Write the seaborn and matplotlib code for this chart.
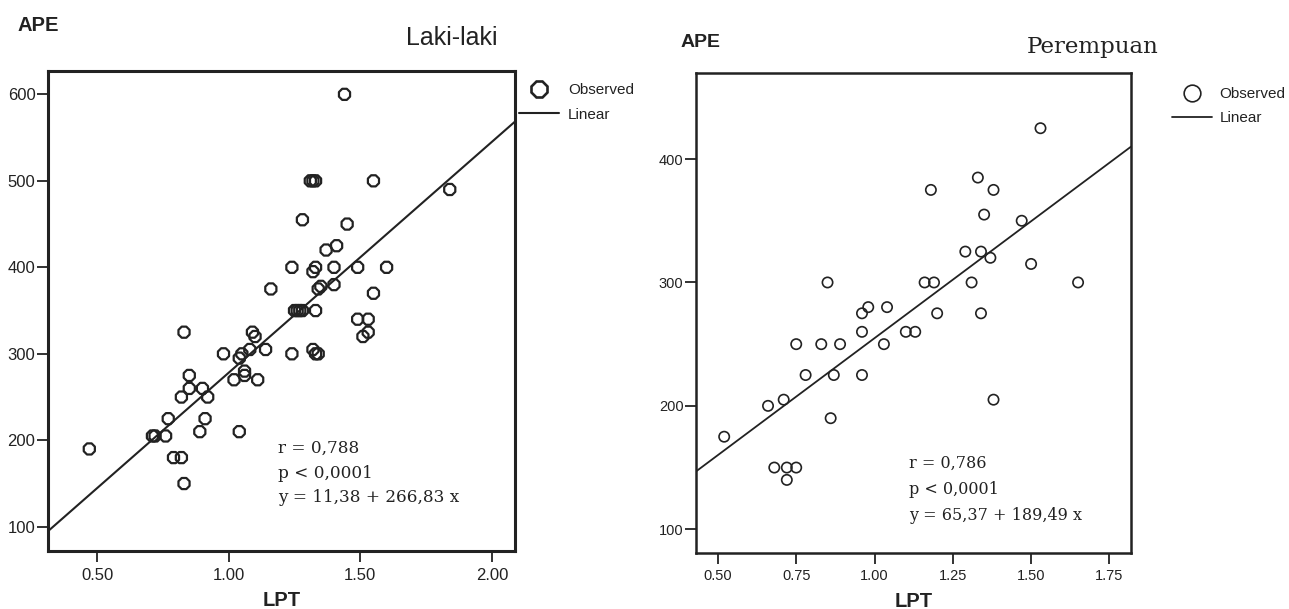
import numpy as np
import pandas as pd
import matplotlib
matplotlib.use("Agg")
import matplotlib.pyplot as plt
import seaborn as sns
from matplotlib.lines import Line2D

# Data: LPT (x) vs APE (y)
# Laki-laki (men)
lpt_laki = [1.44, 1.31, 1.32, 1.33, 1.55, 1.84, 1.28, 1.45, 1.41, 1.37,
            1.24, 1.33, 1.32, 1.40, 1.49, 1.60, 1.16, 1.35, 1.34, 1.40,
            1.55, 1.25, 1.26, 1.27, 1.28, 1.33, 1.49, 1.53, 1.53, 1.51,
            0.83, 1.09, 1.10, 0.98, 1.05, 1.04, 1.08, 1.14, 1.24, 1.32,
            1.33, 1.34, 0.85, 1.06, 1.06, 1.02, 1.11, 0.85, 0.90, 0.82,
            0.92, 0.77, 0.91, 0.71, 0.72, 0.76, 0.89, 1.04, 0.47, 0.79,
            0.82, 0.83]
ape_laki = [600, 500, 500, 500, 500, 490, 455, 450, 425, 420,
            400, 400, 395, 400, 400, 400, 375, 378, 375, 380,
            370, 350, 350, 350, 350, 350, 340, 340, 325, 320,
            325, 325, 320, 300, 300, 295, 305, 305, 300, 305,
            300, 300, 275, 280, 275, 270, 270, 260, 260, 250,
            250, 225, 225, 205, 205, 205, 210, 210, 190, 180,
            180, 150]

# Perempuan (women)
lpt_perempuan = [1.53, 1.33, 1.18, 1.38, 1.35, 1.47, 1.29, 1.34, 1.37, 1.50,
                 0.85, 1.16, 1.19, 1.31, 1.65, 0.96, 0.98, 1.04, 1.20, 1.34,
                 0.96, 1.10, 1.13, 0.75, 0.83, 0.89, 1.03, 0.78, 0.87, 0.96,
                 0.66, 0.71, 0.86, 1.38, 0.52, 0.68, 0.72, 0.75, 0.72]
ape_perempuan = [425, 385, 375, 375, 355, 350, 325, 325, 320, 315,
                 300, 300, 300, 300, 300, 275, 280, 280, 275, 275,
                 260, 260, 260, 250, 250, 250, 250, 225, 225, 225,
                 200, 205, 190, 205, 175, 150, 150, 150, 140]

# regression coefficients printed on the chart
fit_laki = [11.38, 266.83]
fit_perempuan = [65.37, 189.49]
stats_laki = ["r = 0,788", "p < 0,0001", "y = 11,38 + 266,83 x"]
stats_perempuan = ["r = 0,786", "p < 0,0001", "y = 65,37 + 189,49 x"]

laki = pd.DataFrame({"LPT": lpt_laki, "APE": ape_laki})
perempuan = pd.DataFrame({"LPT": lpt_perempuan, "APE": ape_perempuan})

sns.set_theme(style="white")
plt.rcParams['font.family'] = ['Liberation Sans', 'DejaVu Sans']
ink = '#222222'

fig = plt.figure(figsize=(12.89, 6.09), dpi=100)
ax1 = fig.add_axes([48/1289, 58/609, 467/1289, 480/609])
ax2 = fig.add_axes([696/1289, 56.3/609, 435/1289, 479.4/609])


def draw_panel(ax, df, fit, marker, msize, medge, lw_line, spine_w, tick_fs):
    sns.scatterplot(data=df, x="LPT", y="APE", ax=ax, marker=marker,
                    s=msize, facecolor='none', edgecolor=ink,
                    linewidth=medge, legend=False, zorder=3)
    line = ax.axline((0, fit[0]), slope=fit[1], color=ink, lw=lw_line, zorder=2)
    for sp in ax.spines.values():
        sp.set_visible(True)
        sp.set_color(ink)
        sp.set_linewidth(spine_w)
    ax.tick_params(axis='both', which='major', direction='out', length=8,
                   width=1.3, color=ink, labelcolor=ink, labelsize=tick_fs,
                   left=True, bottom=True)
    ax.tick_params(axis='y', pad=1)
    ax.tick_params(axis='x', pad=4)
    ax.set_ylabel("")
    ax.set_xlabel("LPT", fontsize=14.5, fontweight='bold', color=ink, labelpad=6)
    ax.grid(False)
    return line


# Left panel: Laki-laki
line1 = draw_panel(ax1, laki, fit_laki, '8', 75, 1.6, 1.5, 2.2, 12)
ax1.set_xlim(0.313, 2.088)
ax1.set_ylim(72, 627)
ax1.set_xticks([0.5, 1.0, 1.5, 2.0])
ax1.set_yticks([100, 200, 300, 400, 500, 600])
ax1.xaxis.set_major_formatter(matplotlib.ticker.FormatStrFormatter('%.2f'))

# Right panel: Perempuan
line2 = draw_panel(ax2, perempuan, fit_perempuan, 'o', 55, 1.2, 1.3, 1.8, 10.5)
ax2.set_xlim(0.43, 1.819)
ax2.set_ylim(81, 469.5)
ax2.set_xticks([0.5, 0.75, 1.0, 1.25, 1.5, 1.75])
ax2.set_yticks([100, 200, 300, 400])
ax2.xaxis.set_major_formatter(matplotlib.ticker.FormatStrFormatter('%.2f'))

# stats text (serif)
for i, s in enumerate(stats_laki):
    fig.text(278/1289, 1 - (453 + i*24.5)/609, s, family='DejaVu Serif',
             fontsize=12.2, color=ink, ha='left', va='baseline')
for i, s in enumerate(stats_perempuan):
    fig.text(909/1289, 1 - (467.7 + i*26)/609, s, family='DejaVu Serif',
             fontsize=11.5, color=ink, ha='left', va='baseline')

# titles and y labels
fig.text(17/1289, 1 - 31/609, "APE", fontsize=14.5, fontweight='bold',
         color=ink, ha='left', va='baseline')
fig.text(681/1289, 1 - 46.7/609, "APE", fontsize=14, fontweight='bold',
         color=ink, ha='left', va='baseline')
fig.text(498/1289, 1 - 45/609, "Laki-laki", fontsize=18, color=ink,
         ha='right', va='baseline')
fig.text(1158/1289, 1 - 53/609, "Perempuan", family='DejaVu Serif',
         fontsize=16.5, color=ink, ha='right', va='baseline')

# legends outside the boxes
h_obs1 = Line2D([], [], marker='8', ls='none', markersize=13, markerfacecolor='none',
                markeredgecolor=ink, markeredgewidth=1.9)
h_lin1 = Line2D([], [], color=ink, lw=1.5)
ax1.legend([h_obs1, h_lin1], ["Observed", "Linear"], loc='upper left',
           bbox_to_anchor=(519/1289, 1 - 83/609), bbox_transform=fig.transFigure,
           frameon=False, fontsize=11, borderpad=0, borderaxespad=0,
           handlelength=2.6, handletextpad=0.6, labelspacing=0.7, labelcolor=ink)

h_obs2 = Line2D([], [], marker='o', ls='none', markersize=12, markerfacecolor='none',
                markeredgecolor=ink, markeredgewidth=1.2)
h_lin2 = Line2D([], [], color=ink, lw=1.3)
ax2.legend([h_obs2, h_lin2], ["Observed", "Linear"], loc='upper left',
           bbox_to_anchor=(1172/1289, 1 - 87/609), bbox_transform=fig.transFigure,
           frameon=False, fontsize=11, borderpad=0, borderaxespad=0,
           handlelength=2.6, handletextpad=0.5, labelspacing=0.65, labelcolor=ink)

plt.savefig("out.png", dpi=100, facecolor='white')
